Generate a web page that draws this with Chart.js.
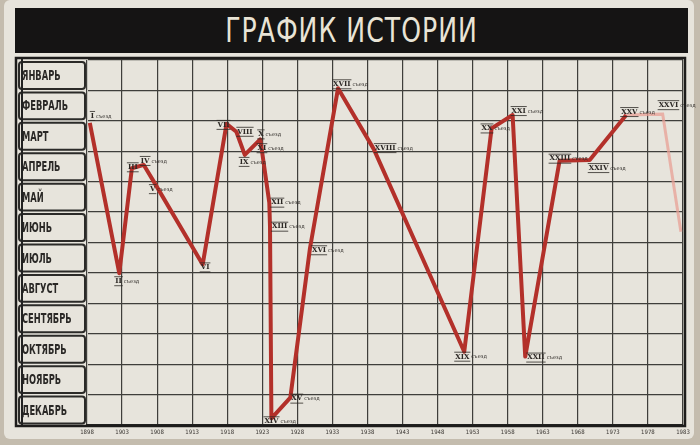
<!DOCTYPE html>
<html>
<head>
<meta charset="utf-8">
<script src="https://cdn.jsdelivr.net/npm/chart.js"></script>
<style>
  body { margin: 0; background: #c4bcae; }
  #board { position: absolute; left: 4px; top: 0; width: 690px; height: 439px; background: #e7e4dc; border-radius: 6px; }
  #title { position: absolute; left: 15px; top: 8px; width: 673px; height: 45px; background: #151414;
           color: #e9e4d6; font: 28px "DejaVu Sans Condensed", sans-serif; letter-spacing: 1px;
           text-align: center; line-height: 45px; }
  #title span { display: inline-block; transform: scale(1, 1.2); }
  canvas { position: absolute; left: 0; top: 0; }
</style>
</head>
<body>
<div id="board"></div>
<div id="title"><span>ГРАФИК ИСТОРИИ</span></div>
<canvas id="myChart" width="700" height="445"></canvas>
<script>
// months down the left side, years along the bottom
const months = ["ЯНВАРЬ", "ФЕВРАЛЬ", "МАРТ", "АПРЕЛЬ", "МАЙ", "ИЮНЬ", "ИЮЛЬ",
                "АВГУСТ", "СЕНТЯБРЬ", "ОКТЯБРЬ", "НОЯБРЬ", "ДЕКАБРЬ"];
const yearTicks = [1898, 1903, 1908, 1913, 1918, 1923, 1928, 1933, 1938,
                   1943, 1948, 1953, 1958, 1963, 1968, 1973, 1978, 1983];

// red line: congresses I..XXV (month value 0 = top of January row)
const congressLabels = ["I съезд", "II съезд", "III", "IV съезд", "V съезд", "VI", "VII", "VIII",
                        "IX съезд", "X съезд", "XI съезд", "XII съезд", "XIII съезд", "XIV съезд",
                        "XV съезд", "XVI съезд", "XVII съезд", "XVIII съезд", "XIX съезд", "XX съезд",
                        "XXI съезд", "XXII съезд", "XXIII съезд", "XXIV съезд", "XXV съезд"];
const congressYears = [1898.4, 1902.6, 1904.4, 1906.1, 1907.4, 1914.5, 1917.9, 1919.3,
                       1920.5, 1922.7, 1922.9, 1924.0, 1924.1, 1924.3,
                       1927.0, 1929.8, 1933.8, 1938.9, 1951.8, 1955.7,
                       1958.7, 1960.5, 1965.4, 1969.7, 1974.9];
const congressMonths = [2.07, 7.01, 3.56, 3.45, 3.95, 6.72, 2.10, 2.36,
                        3.12, 2.61, 2.90, 4.69, 5.48, 11.78,
                        11.10, 6.19, 0.93, 2.93, 9.59, 2.25,
                        1.81, 9.75, 3.31, 3.29, 1.81];

// faded pink continuation
const draftLabels = ["", "XXVI съезд", ""];
const draftYears = [1974.9, 1980.1, 1982.7];
const draftMonths = [1.81, 1.78, 5.65];

// where each label sits relative to its point [dx, dy]
const congressOffsets = [[1,-7],[-4,8],[-4,-1],[-3,-4],[-3,9],[-2,3],[-9,1],[1,0],
                         [-5,7],[-2,-5],[-4,0],[2,0],[2,0],[-7,3],
                         [1,1],[2,2],[-5,-4],[1,-1],[-9,5],[-10,0],
                         [-1,-4],[2,1],[-10,-2],[-1,8],[-5,-3]];
const draftOffsets = [[0,0],[-4,-9],[0,0]];

const toPoints = (xs, ys) => xs.map((x, i) => ({ x: x, y: ys[i] }));

const labelBoxes = {
  id: "labelBoxes",
  beforeDraw(chart) {
    const ctx = chart.ctx;
    const ys = chart.scales.y;
    ctx.save();
    ctx.strokeStyle = "#2b2a28";
    ctx.lineWidth = 2;
    for (let i = 0; i < months.length; i++) {
      const top = ys.getPixelForValue(i) + 2;
      const bottom = ys.getPixelForValue(i + 1) - 1.5;
      ctx.beginPath();
      ctx.roundRect(19, top, 66, bottom - top, 3);
      ctx.stroke();
    }
    // month names, narrow like the painted letters
    ctx.fillStyle = "#2a2826";
    ctx.font = "bold 14px 'DejaVu Sans Condensed', sans-serif";
    ctx.textBaseline = "middle";
    ctx.textAlign = "left";
    months.forEach((m, i) => {
      const y = ys.getPixelForValue(i + 0.5) + 1;
      ctx.save();
      ctx.translate(22, y);
      ctx.scale(0.66, 1.05);
      ctx.fillText(m, 0, 0);
      ctx.restore();
    });
    ctx.restore();
  },
  afterDraw(chart) {
    const ctx = chart.ctx;
    ctx.save();
    ctx.strokeStyle = "#1d1c1b";
    ctx.lineWidth = 2.5;
    ctx.strokeRect(16, 58, 669, 368);
    ctx.restore();
  }
};

const congressText = {
  id: "congressText",
  afterDatasetsDraw(chart) {
    const ctx = chart.ctx;
    ctx.save();
    ctx.fillStyle = "#2c2825";
    ctx.strokeStyle = "#2c2825";
    ctx.textBaseline = "middle";
    ctx.textAlign = "left";
    chart.data.datasets.forEach((ds, di) => {
      const meta = chart.getDatasetMeta(di);
      ds.congress.forEach((lab, i) => {
        if (!lab) return;
        const p = meta.data[i];
        const off = ds.offsets[i];
        const parts = lab.split(" ");
        const x = p.x + off[0], y = p.y + off[1];
        ctx.font = "bold 7px 'DejaVu Serif', serif";
        const w = ctx.measureText(parts[0]).width;
        ctx.fillText(parts[0], x, y);
        ctx.lineWidth = 0.8;
        ctx.beginPath();
        ctx.moveTo(x - 1, y - 4.5); ctx.lineTo(x + w + 1, y - 4.5);
        ctx.moveTo(x - 1, y + 4.5); ctx.lineTo(x + w + 1, y + 4.5);
        ctx.stroke();
        if (parts[1]) {
          ctx.font = "5px 'DejaVu Sans', sans-serif";
          ctx.fillText(parts[1], x + w + 2, y + 0.5);
        }
      });
    });
    ctx.restore();
  }
};

new Chart(document.getElementById("myChart").getContext("2d"), {
  type: "line",
  data: {
    datasets: [{
      data: toPoints(congressYears, congressMonths),
      congress: congressLabels,
      offsets: congressOffsets,
      borderColor: "#b3302a",
      borderWidth: 4,
      pointRadius: 0,
      tension: 0,
      borderJoinStyle: "round"
    }, {
      data: toPoints(draftYears, draftMonths),
      congress: draftLabels,
      offsets: draftOffsets,
      borderColor: "rgba(232, 160, 150, 0.75)",
      borderWidth: 3,
      pointRadius: 0,
      tension: 0
    }]
  },
  options: {
    responsive: false,
    animation: false,
    layout: { padding: { left: 22, right: 17, top: 60, bottom: 4 } },
    plugins: { legend: { display: false }, tooltip: { enabled: false } },
    scales: {
      x: {
        type: "linear",
        min: 1898,
        max: 1983,
        afterBuildTicks: (scale) => { scale.ticks = yearTicks.map(v => ({ value: v })); },
        afterFit: (scale) => { scale.height = 16; },
        grid: { color: "#3f3e3b", lineWidth: 1.2, drawTicks: false },
        border: { color: "#222", width: 2 },
        ticks: {
          padding: 4,
          maxRotation: 0,
          autoSkip: false,
          color: "#3a3632",
          font: { family: "'DejaVu Sans Condensed', sans-serif", size: 6 },
          callback: (v) => String(v)
        }
      },
      yl: {
        type: "linear",
        position: "left",
        min: 0,
        max: 12,
        reverse: true,
        afterFit: (scale) => { scale.width = 65; },
        grid: { display: false },
        border: { display: false },
        ticks: { display: false }
      },
      y: {
        type: "linear",
        position: "left",
        min: 0,
        max: 12,
        reverse: true,
        afterBuildTicks: (scale) => { scale.ticks = months.map((m, i) => ({ value: i })).concat([{ value: 12 }]); },
        afterFit: (scale) => { scale.width = 0; },
        grid: { color: "#3f3e3b", lineWidth: 1.2, drawTicks: false },
        border: { color: "#222", width: 2 },
        ticks: { display: false }
      }
    }
  },
  plugins: [labelBoxes, congressText]
});
</script>
</body>
</html>
